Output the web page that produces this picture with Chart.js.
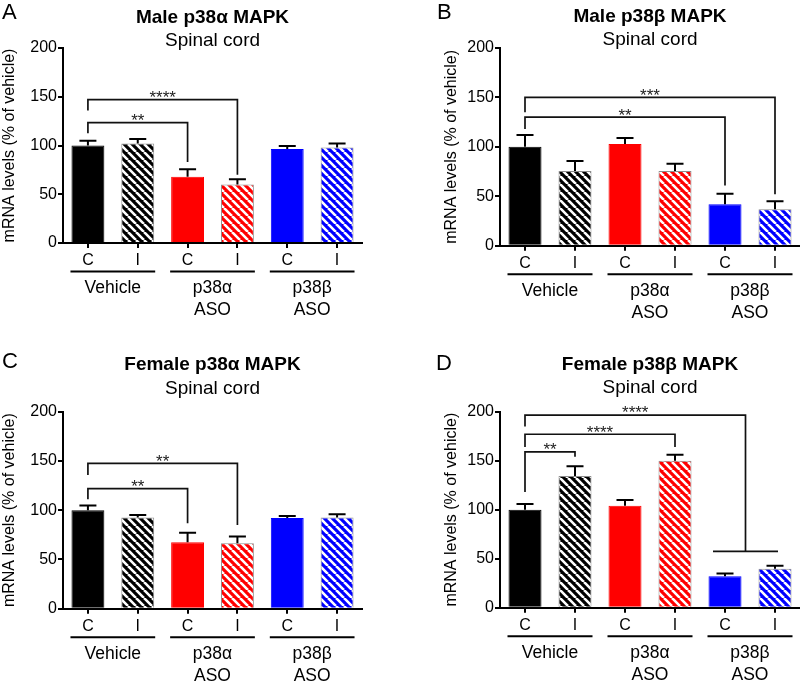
<!DOCTYPE html>
<html>
<head>
<meta charset="utf-8">
<script src="https://cdn.jsdelivr.net/npm/chart.js@4.4.1/dist/chart.umd.min.js"></script>
<style>
  body { margin: 0; background: #fff; }
  .panel { position: absolute; width: 400px; height: 342px; }
</style>
</head>
<body>
<div class="panel" style="left:0;top:0"><canvas id="panel-a" width="400" height="342"></canvas></div>
<div class="panel" style="left:400px;top:0"><canvas id="panel-b" width="400" height="342"></canvas></div>
<div class="panel" style="left:0;top:342px"><canvas id="panel-c" width="400" height="342"></canvas></div>
<div class="panel" style="left:400px;top:342px"><canvas id="panel-d" width="400" height="342"></canvas></div>
<script>
// categories
const xLabels = ['C', 'I', 'C', 'I', 'C', 'I'];
const groupLabels = [['Vehicle'], ['p38α', 'ASO'], ['p38β', 'ASO']];
const barColors = ['#000000', '#000000', '#ff0000', '#ff0000', '#0000ff', '#0000ff'];
const hatched = [false, true, false, true, false, true];
const yMax = 200;
const yStep = 50;

// A - male p38a
const maleAlphaMean = [100, 102, 68, 60, 96.5, 98];
const maleAlphaSem = [5, 4.7, 7.6, 5.3, 3.1, 4];
const maleAlphaSig = [
  { from: 0, to: 2, y: 123.5, downFrom: 112.5, downTo: 83, label: '**' },
  { from: 0, to: 3, y: 147, downFrom: 136, downTo: 70, label: '****' }
];

// B - male p38b
const maleBetaMean = [100, 75.6, 103, 75.6, 42, 36.8];
const maleBetaSem = [12, 10, 6, 7.4, 10.6, 8.2];
const maleBetaSig = [
  { from: 0, to: 4, y: 130, downFrom: 118, downTo: 61, label: '**' },
  { from: 0, to: 5, y: 150, downFrom: 135, downTo: 52, label: '***' }
];

// C - female p38a
const femaleAlphaMean = [100, 92.7, 67.4, 66.4, 92, 92.7];
const femaleAlphaSem = [4.8, 2.5, 9.6, 7, 2, 3.3];
const femaleAlphaSig = [
  { from: 0, to: 2, y: 122, downFrom: 111, downTo: 86.7, label: '**' },
  { from: 0, to: 3, y: 147.6, downFrom: 135.7, downTo: 85, label: '**' }
];

// D - female p38b
const femaleBetaMean = [100, 134.4, 104, 150, 32, 39.8];
const femaleBetaSem = [5.8, 10, 6, 6, 3, 3];
const femaleBetaSig = [
  { from: 0, to: 1, y: 159, downFrom: 118, downTo: 154, label: '**' },
  { from: 0, to: 3, y: 177, downFrom: 164, downTo: 164, label: '****' },
  { from: 0, to: 4.41, y: 196.6, downFrom: 185, downTo: 57.5, label: '****' },
  { from: 3.76, to: 5.06, y: 57.5, downFrom: 57.5, downTo: 57.5, label: '' }
];

Chart.defaults.font.family = '"Liberation Sans", Arial, sans-serif';
Chart.defaults.color = '#000';

const TITLE_SIZE = 19;

function hatch(color) {
  const c = document.createElement('canvas');
  c.width = 8; c.height = 8;
  const g = c.getContext('2d');
  g.fillStyle = color;
  g.fillRect(0, 0, 8, 8);
  g.strokeStyle = '#fff';
  g.lineWidth = 2.6;
  g.beginPath();
  for (let k = -1; k <= 1; k++) {
    g.moveTo(k * 8, 0);
    g.lineTo(k * 8 + 8, 8);
  }
  g.stroke();
  return g.createPattern(c, 'repeat');
}

const fills = barColors.map((c, i) => hatched[i] ? hatch(c) : c);
const borders = barColors.map((c, i) => hatched[i] ? '#8c8c8c' : c);

// error bars, brackets, group labels, panel letter
function extras(p) {
  return {
    id: 'extras',
    afterDatasetsDraw(chart) {
      const { ctx, scales: { x, y } } = chart;
      const bars = chart.getDatasetMeta(0).data;
      ctx.save();
      ctx.strokeStyle = '#000';
      ctx.lineWidth = 2;
      bars.forEach((bar, i) => {
        const top = y.getPixelForValue(p.mean[i] + p.sem[i]);
        ctx.beginPath();
        ctx.moveTo(bar.x, bar.y);
        ctx.lineTo(bar.x, top);
        ctx.moveTo(bar.x - 8.5, top);
        ctx.lineTo(bar.x + 8.5, top);
        ctx.stroke();
      });
      ctx.lineWidth = 1.7;
      ctx.strokeStyle = '#111';
      ctx.fillStyle = '#222';
      ctx.font = '17px "Liberation Sans", Arial';
      ctx.textAlign = 'center';
      ctx.textBaseline = 'alphabetic';
      p.sig.forEach(s => {
        const x1 = x.getPixelForValue(s.from);
        const x2 = x.getPixelForValue(s.to);
        const yb = y.getPixelForValue(s.y);
        ctx.beginPath();
        ctx.moveTo(x1, y.getPixelForValue(s.downFrom));
        ctx.lineTo(x1, yb);
        ctx.lineTo(x2, yb);
        ctx.lineTo(x2, y.getPixelForValue(s.downTo));
        ctx.stroke();
        if (s.label) ctx.fillText(s.label, (x1 + x2) / 2, yb + 3.4);
      });
      ctx.restore();
    },
    afterDraw(chart) {
      const { ctx, chartArea } = chart;
      const bars = chart.getDatasetMeta(0).data;
      ctx.save();
      ctx.strokeStyle = '#000';
      ctx.lineWidth = 2;
      ctx.fillStyle = '#000';
      ctx.font = '17.5px "Liberation Sans", Arial';
      ctx.textAlign = 'center';
      ctx.textBaseline = 'middle';
      const ly = chartArea.bottom + 28.5;
      groupLabels.forEach((lines, g) => {
        const a = bars[g * 2], b = bars[g * 2 + 1];
        const l = a.x - a.width / 2 - 1, r = b.x + b.width / 2 + 1;
        ctx.beginPath();
        ctx.moveTo(l, ly);
        ctx.lineTo(r, ly);
        ctx.stroke();
        lines.forEach((t, k) => ctx.fillText(t, (l + r) / 2, chartArea.bottom + 45 + k * 22.5));
      });
      ctx.font = '22px "Liberation Sans", Arial';
      ctx.textAlign = 'left';
      ctx.textBaseline = 'alphabetic';
      ctx.fillText(p.letter, p.letterX, p.letterY);
      ctx.restore();
    }
  };
}

function makeChart(id, p) {
  const box = p.box;
  const half = TITLE_SIZE / 2;
  return new Chart(document.getElementById(id), {
    type: 'bar',
    data: {
      labels: xLabels,
      datasets: [{
        data: p.mean,
        backgroundColor: fills,
        borderColor: borders,
        borderWidth: 1,
        barPercentage: 0.66,
        categoryPercentage: 1
      }]
    },
    options: {
      responsive: false,
      animation: false,
      layout: { padding: { left: 0, right: 400 - box.right, top: 0, bottom: 0 } },
      plugins: {
        legend: { display: false },
        tooltip: { enabled: false },
        title: {
          display: true,
          text: p.title,
          fullSize: false,
          color: '#000',
          font: { size: TITLE_SIZE, weight: 'bold', lineHeight: 1 },
          padding: { top: p.titleY - half, bottom: 0 }
        },
        subtitle: {
          display: true,
          text: 'Spinal cord',
          fullSize: false,
          color: '#000',
          font: { size: TITLE_SIZE, lineHeight: 0.5 },
          padding: { top: p.subY - half / 2 - (p.titleY + half), bottom: box.top - p.subY - half / 2 }
        }
      },
      scales: {
        x: {
          grid: { drawOnChartArea: false, offset: false, color: '#000', lineWidth: 2, tickLength: 5 },
          border: { color: '#000', width: 2 },
          ticks: { color: '#000', font: { size: 16 }, padding: 3 },
          afterFit: s => { s.height = 342 - box.bottom; }
        },
        y: {
          min: 0,
          max: yMax,
          ticks: { stepSize: yStep, color: '#000', font: { size: 16 }, padding: 1 },
          grid: { drawOnChartArea: false, color: '#000', lineWidth: 2, tickLength: 5 },
          border: { color: '#000', width: 2 },
          title: {
            display: true,
            text: 'mRNA levels (% of vehicle)',
            color: '#000',
            font: { size: 16, lineHeight: 1 },
            padding: { top: p.yTitleX - 8, bottom: 0 }
          },
          afterFit: s => { s.width = box.left; }
        }
      }
    },
    plugins: [extras(p)]
  });
}

makeChart('panel-a', {
  title: 'Male p38α MAPK', letter: 'A', letterX: 2, letterY: 19,
  titleY: 18, subY: 41, yTitleX: 10,
  box: { left: 63, right: 362, top: 48, bottom: 243 },
  mean: maleAlphaMean, sem: maleAlphaSem, sig: maleAlphaSig
});

makeChart('panel-b', {
  title: 'Male p38β MAPK', letter: 'B', letterX: 37, letterY: 19,
  titleY: 17, subY: 40, yTitleX: 52,
  box: { left: 100, right: 400, top: 48, bottom: 245.7 },
  mean: maleBetaMean, sem: maleBetaSem, sig: maleBetaSig
});

makeChart('panel-c', {
  title: 'Female p38α MAPK', letter: 'C', letterX: 2, letterY: 26,
  titleY: 23, subY: 46.3, yTitleX: 10,
  box: { left: 63, right: 362, top: 69.7, bottom: 266.7 },
  mean: femaleAlphaMean, sem: femaleAlphaSem, sig: femaleAlphaSig
});

makeChart('panel-d', {
  title: 'Female p38β MAPK', letter: 'D', letterX: 36, letterY: 28,
  titleY: 23, subY: 46, yTitleX: 52,
  box: { left: 100, right: 400, top: 69.7, bottom: 265.7 },
  mean: femaleBetaMean, sem: femaleBetaSem, sig: femaleBetaSig
});
</script>
</body>
</html>
